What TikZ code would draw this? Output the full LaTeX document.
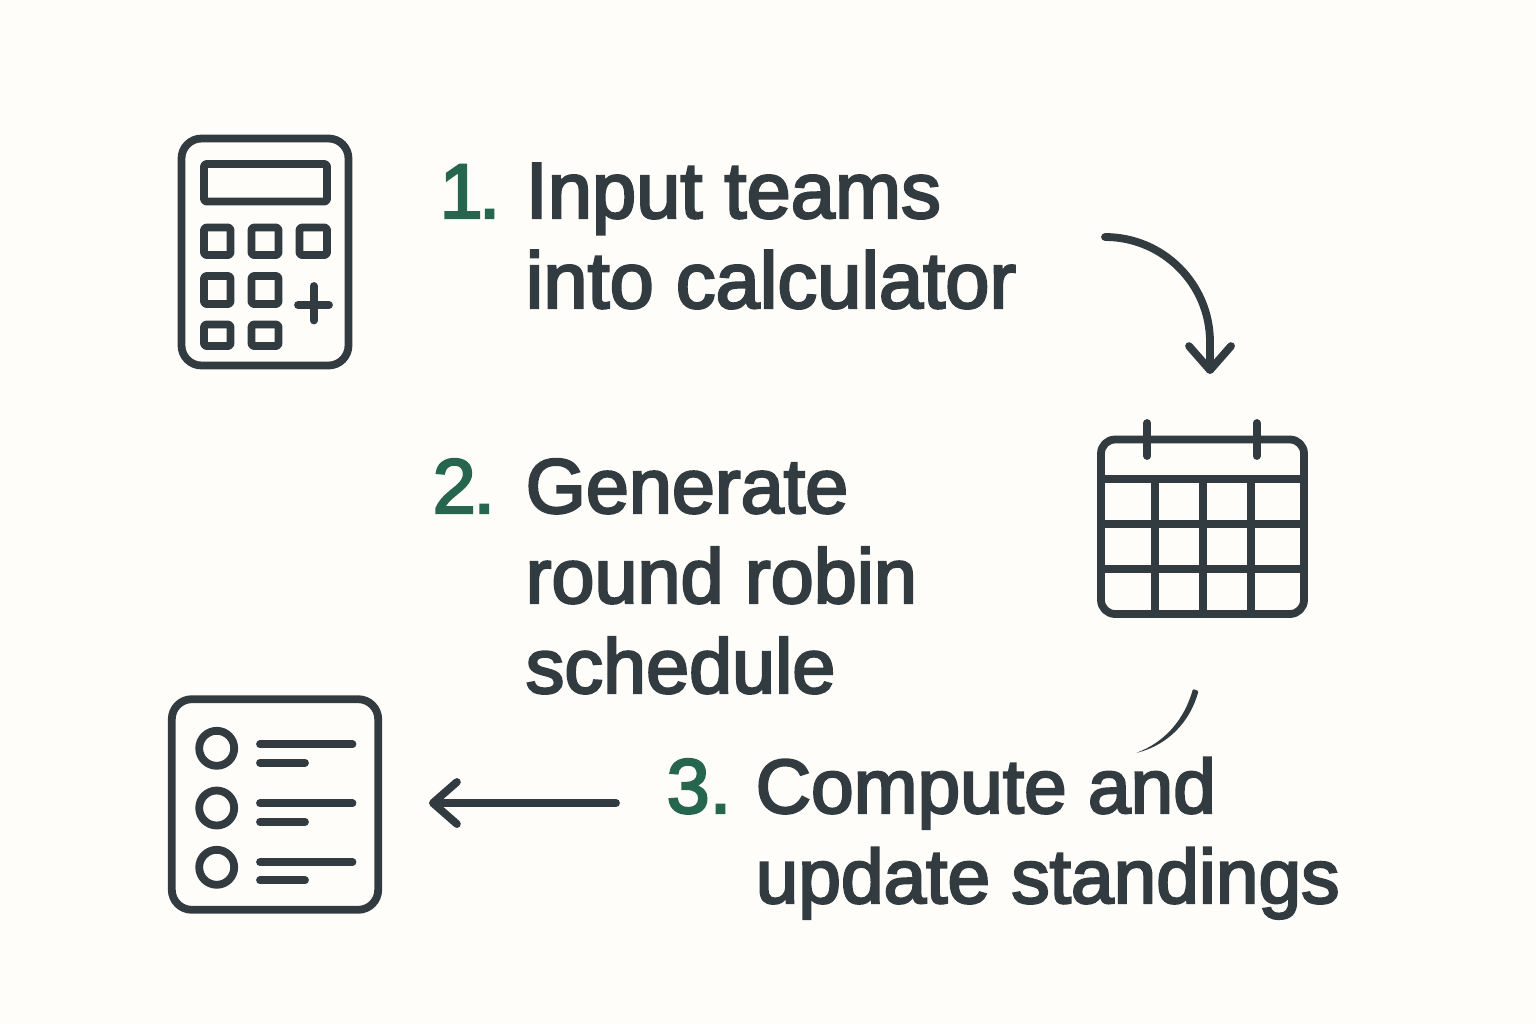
\documentclass[tikz,border=0pt]{standalone}
\usepackage{fontspec}
\setmainfont{Liberation Sans}[FakeBold=3]
\usetikzlibrary{arrows.meta}

\definecolor{inkdark}{HTML}{323C40}
\definecolor{stepgreen}{HTML}{26664F}
\definecolor{paperbg}{HTML}{FEFDF9}

\tikzset{
    iconline/.style={draw=inkdark, line width=0.078cm, line cap=round, line join=round},
    keybox/.style={iconline, rounded corners=0.025cm},
    flowarrow/.style={iconline, -{Straight Barb[length=2.4mm,width=4.2mm,round]}},
    steptext/.style={anchor=base west, inner sep=0pt, align=left, text=inkdark,
        font=\fontsize{#1}{25.6}\selectfont},
    stepnum/.style={anchor=base west, inner sep=0pt, text=stepgreen,
        font=\fontsize{22}{25.6}\selectfont}
}

\begin{document}
\begin{tikzpicture}[x=0.01cm, y=-0.01cm]

    % фон
    \fill[paperbg] (0,0) rectangle (1536,1024);
    \useasboundingbox (0,0) rectangle (1536,1024);

    % координаты стрелок
    \coordinate (ArrowOneStart) at (1105,237);
    \coordinate (ArrowOneEnd) at (1210,374);
    \coordinate (ArrowTwoStart) at (616,803);
    \coordinate (ArrowTwoEnd) at (429,803);

    % калькулятор
    \draw[iconline, rounded corners=0.2cm] (181.5,138.5) rectangle (348.5,365.5);
    \draw[keybox] (204,164) rectangle (327,201.5);
    \foreach \xa/\xb/\ya/\yb in {204/230.5/227.5/255, 251.5/278.5/227.5/255, 299.5/327/227.5/255,
                                 204/230.5/276/304, 251.5/278.5/276/304,
                                 204/230.5/324.5/346, 251.5/278.5/324.5/346}
        \draw[keybox] (\xa,\ya) rectangle (\xb,\yb);
    \draw[iconline] (298,305) -- (329,305);
    \draw[iconline] (313.7,286) -- (313.7,320.5);

    % шаг 1
    \node[stepnum] (numOne) at (439,218) {1\kern-0.05em.};
    \node[steptext=22.6] (textOne) at (525,308) {Input teams\\into calculator};

    % стрелка к календарю
    \draw[flowarrow] (ArrowOneStart) arc[start angle=-90, end angle=0, radius=105] -- (ArrowOneEnd);

    % календарь
    \draw[iconline, rounded corners=0.14cm] (1101,439.5) rectangle (1304,614);
    \foreach \x in {1147.3,1256.7}
        \draw[iconline] (\x,423) -- (\x,456);
    \foreach \y in {479,524,569}
        \draw[iconline] (1101,\y) -- (1304,\y);
    \foreach \x in {1154.7,1203,1251}
        \draw[iconline] (\x,479) -- (\x,614);

    % шаг 2
    \node[stepnum] (numTwo) at (432,513) {2\kern-0.03em.};
    \node[steptext=22] (textTwo) at (525,693) {Generate\\round robin\\schedule};

    % обрывок дуги под календарём
    \fill[inkdark, rounded corners=0.01cm] (1193,689) .. controls (1184,720) and (1165,742) .. (1136,753)
        .. controls (1168,745) and (1190,722) .. (1198.5,691) -- cycle;

    % шаг 3
    \node[stepnum] (numThree) at (666,813) {3.};
    \node[steptext=21.8] (textThree) at (755,903) {Compute and\\update standings};

    % стрелка к таблице
    \draw[flowarrow] (ArrowTwoStart) -- (ArrowTwoEnd);

    % таблица результатов
    \draw[iconline, rounded corners=0.2cm] (171.8,699.2) rectangle (378.2,909.8);
    \foreach \y/\ya/\yb in {748.3/744.3/762.7, 808/803.3/821.7, 867.3/862/880.3} {
        \draw[iconline] (216.7,\y) circle (17.5);
        \draw[iconline] (260,\ya) -- (352.5,\ya);
        \draw[iconline] (260,\yb) -- (305,\yb);
    }

\end{tikzpicture}
\end{document}
